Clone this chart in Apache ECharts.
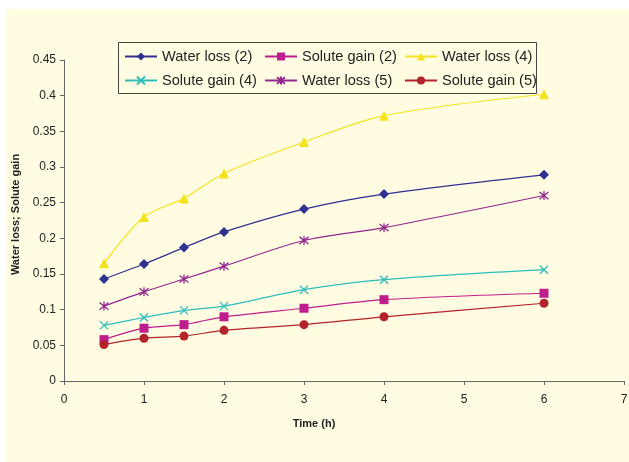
<!DOCTYPE html>
<html>
<head>
<meta charset="utf-8">
<script src="https://cdn.jsdelivr.net/npm/echarts@6/dist/echarts.min.js"></script>
<style>
html,body{margin:0;padding:0;background:#ffffff;width:629px;height:462px;overflow:hidden;}
#chart{position:absolute;left:6px;top:9px;width:623px;height:453px;background:#FFFCE1;}
</style>
</head>
<body>
<div id="chart"></div>
<script>
const times = [0.5, 1, 1.5, 2, 3, 4, 6];
const waterLoss2 = [0.143, 0.164, 0.187, 0.209, 0.241, 0.262, 0.289];
const soluteGain2 = [0.058, 0.074, 0.079, 0.090, 0.102, 0.114, 0.123];
const waterLoss4 = [0.165, 0.230, 0.256, 0.291, 0.335, 0.372, 0.402];
const soluteGain4 = [0.078, 0.089, 0.099, 0.105, 0.128, 0.142, 0.156];
const waterLoss5 = [0.105, 0.125, 0.143, 0.161, 0.197, 0.215, 0.260];
const soluteGain5 = [0.051, 0.060, 0.063, 0.071, 0.079, 0.090, 0.109];
const seriesNames = ['Water loss (2)', 'Solute gain (2)', 'Water loss (4)', 'Solute gain (4)', 'Water loss (5)', 'Solute gain (5)'];
const xTicks = [0, 1, 2, 3, 4, 5, 6, 7];
const yTicks = [0, 0.05, 0.1, 0.15, 0.2, 0.25, 0.3, 0.35, 0.4, 0.45];

const pair = arr => times.map((t, i) => [t, arr[i]]);
const X_SYM = 'path://M1,1L9,9M9,1L1,9';
const STAR_SYM = 'path://M1,1L9,9M9,1L1,9M5,0L5,10';

function mk(name, data, color, symbol, size, stroke) {
  const s = {
    name: name, type: 'line', data: pair(data), smooth: 0.3,
    symbol: symbol, symbolSize: size,
    lineStyle: {color: color, width: 1.2},
    itemStyle: {color: color},
    emphasis: {disabled: true}
  };
  if (stroke) s.itemStyle = {color: color, borderColor: color, borderWidth: 1.3};
  return s;
}

const chart = echarts.init(document.getElementById('chart'));
const legendText = {fontFamily: 'Liberation Sans, Arial', fontSize: 14.6, color: '#222'};
function legend(left, names) {
  return {
    orient: 'vertical', left: left, top: 40, itemWidth: 32, itemHeight: 10, itemGap: 9,
    data: names, textStyle: legendText, padding: 0, selectedMode: false
  };
}
chart.setOption({
  animation: false,
  textStyle: {fontFamily: 'Liberation Sans, Arial'},
  grid: {left: 58, right: 5, top: 51, bottom: 81, containLabel: false, outerBoundsMode: 'none'},
  legend: [
    legend(118, [seriesNames[0], seriesNames[3]]),
    legend(258, [seriesNames[1], seriesNames[4]]),
    legend(398, [seriesNames[2], seriesNames[5]])
  ],
  graphic: [{
    type: 'rect', shape: {x: 112.5, y: 33.5, width: 418, height: 51},
    style: {fill: null, stroke: '#444', lineWidth: 1}, z: 100, silent: true
  }],
  xAxis: {
    type: 'value', min: xTicks[0], max: xTicks[xTicks.length - 1], interval: 1,
    name: 'Time (h)', nameLocation: 'middle', nameGap: 37,
    nameTextStyle: {fontFamily: 'Liberation Sans, Arial', fontWeight: 'bold', fontSize: 11, color: '#222', padding: [0, 60, 0, 0]},
    axisLine: {lineStyle: {color: '#666', width: 1}},
    axisTick: {show: true, length: 4, lineStyle: {color: '#666'}},
    axisLabel: {fontSize: 12, color: '#222', margin: 13, fontFamily: 'Liberation Sans, Arial'},
    splitLine: {show: false}
  },
  yAxis: {
    type: 'value', min: yTicks[0], max: yTicks[yTicks.length - 1], interval: 0.05,
    name: 'Water loss; Solute gain', nameLocation: 'middle', nameGap: 39,
    nameTextStyle: {fontFamily: 'Liberation Sans, Arial', fontWeight: 'bold', fontSize: 11, color: '#222', padding: [0, 0, 0, 12]},
    axisLine: {show: true, lineStyle: {color: '#666', width: 1}},
    axisTick: {show: true, length: 4, lineStyle: {color: '#666'}},
    axisLabel: {fontSize: 12, color: '#222', margin: 8, fontFamily: 'Liberation Sans, Arial',
      formatter: v => String(parseFloat(v.toFixed(2)))},
    splitLine: {show: false}
  },
  series: [
    mk(seriesNames[0], waterLoss2, '#2E3192', 'diamond', 10, false),
    mk(seriesNames[1], soluteGain2, '#BE1E8D', 'rect', 9, false),
    mk(seriesNames[2], waterLoss4, '#F4E21E', 'triangle', 10, false),
    mk(seriesNames[3], soluteGain4, '#2DBDBD', X_SYM, 8, true),
    mk(seriesNames[4], waterLoss5, '#93278F', STAR_SYM, 9, true),
    mk(seriesNames[5], soluteGain5, '#B3232B', 'circle', 9, false)
  ]
});
</script>
</body>
</html>
